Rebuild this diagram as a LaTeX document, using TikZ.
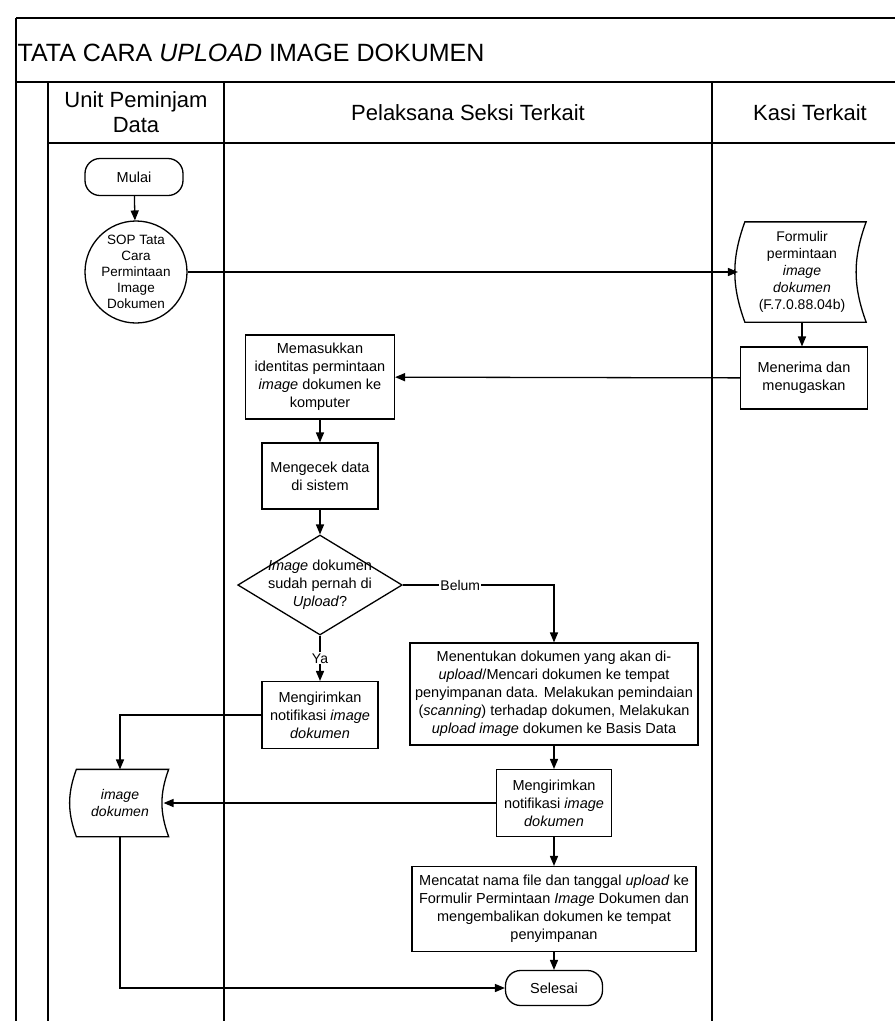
\documentclass[tikz,border=0pt]{standalone}
\usepackage{fontspec}
\setmainfont{Liberation Sans}
\usetikzlibrary{arrows,shapes.geometric}

\tikzset{
  box/.style={draw,line width=1.3pt,align=center,inner sep=1pt,font=\fontsize{14.5}{18}\selectfont},
  terminal/.style={box,rounded corners=15pt},
  datashape/.style={align=center,inner sep=1pt,font=\fontsize{14}{17}\selectfont},
  lane/.style={line width=1.6pt},
  label/.style={fill=white,inner sep=1pt,font=\fontsize{14}{16}\selectfont}
}

\begin{document}
\begin{tikzpicture}[x=1pt,y=-1pt,>=triangle 45,line width=1.3pt]
        \useasboundingbox (0,0) rectangle (895,1021);

        % Lanes.
        \draw[lane] (16,18) -- (895,18);
        \draw[lane] (16,18) -- (16,1021);
        \draw[lane] (16,82) -- (895,82);
        \draw[lane] (48,82) -- (48,1021);
        \draw[lane] (48,143) -- (895,143);
        \draw[lane] (224,82) -- (224,1021);
        \draw[lane] (712,82) -- (712,1021);
        \node[anchor=west,inner sep=0pt,font=\fontsize{25}{28}\selectfont] (judul) at (17,53) {TATA CARA \textit{UPLOAD} IMAGE DOKUMEN};
        \node[align=center,font=\fontsize{22}{25}\selectfont] (unit) at (136,112) {Unit Peminjam\\Data};
        \node[font=\fontsize{22}{25}\selectfont] (pelaksana) at (468,113) {Pelaksana Seksi Terkait};
        \node[font=\fontsize{22}{25}\selectfont] (kasi) at (810,113) {Kasi Terkait};

        % Terminals.
        \node[terminal,minimum width=98,minimum height=37] (mulai) at (134,177) {Mulai};
        \node[terminal,minimum width=97,minimum height=35] (selesai) at (554,988) {Selesai};
        \node[draw,circle,minimum size=102,inner sep=0pt,align=center,font=\fontsize{13.5}{16}\selectfont] (sop) at (136,272) {SOP Tata\\Cara\\Permintaan\\Image\\Dokumen};

        % Data.
        \node[datashape,minimum width=127,minimum height=99] (formulir) at (802,272) {Formulir\\permintaan\\\textit{image}\\\textit{dokumen}\\(F.7.0.88.04b)};
        \draw ([xshift=7]formulir.north west) to[bend right=20] ([xshift=7]formulir.south west) -- (formulir.south east) to[bend left=20] (formulir.north east) -- cycle;
        \node[datashape,minimum width=96,minimum height=66] (imgdok) at (120,803) {\textit{image}\\\textit{dokumen}};
        \draw ([xshift=5]imgdok.north west) to[bend right=20] ([xshift=5]imgdok.south west) -- (imgdok.south east) to[bend left=20] (imgdok.north east) -- cycle;

        % Processes.
        \node[box,minimum width=127,minimum height=62] (menerima) at (804,378) {Menerima dan\\menugaskan};
        \node[box,minimum width=149,minimum height=84] (memasukkan) at (320,377) {Memasukkan\\identitas permintaan\\\textit{image} dokumen ke\\komputer};
        \node[box,minimum width=116,minimum height=66] (mengecek) at (320,476) {Mengecek data\\di sistem};
        \node[box,diamond,aspect=1.65,inner sep=-4pt,minimum width=161,minimum height=100] (sudah) at (320,585) {\textit{Image} dokumen\\sudah pernah di\\\textit{Upload}?};
        \node[box,minimum width=116,minimum height=67] (kirimA) at (320,715) {Mengirimkan\\notifikasi \textit{image}\\\textit{dokumen}};
        \node[box,minimum width=288,minimum height=102] (menentukan) at (554,694) {Menentukan dokumen yang akan di-\\\textit{upload}/Mencari dokumen ke tempat\\penyimpanan data. Melakukan pemindaian\\(\textit{scanning}) terhadap dokumen, Melakukan\\\textit{upload image} dokumen ke Basis Data};
        \node[box,minimum width=115,minimum height=67] (kirimB) at (554,803) {Mengirimkan\\notifikasi \textit{image}\\\textit{dokumen}};
        \node[box,minimum width=284,minimum height=85] (mencatat) at (554,909) {Mencatat nama file dan tanggal \textit{upload} ke\\Formulir Permintaan \textit{Image} Dokumen dan\\mengembalikan dokumen ke tempat\\penyimpanan};

        % Connections.
        \draw[->] (mulai) -- (sop);
        \draw[->] (sop) -- (formulir.west);
        \draw[->] (formulir.south) -- (formulir.south |- menerima.north);
        \draw[->] (menerima) -- (memasukkan);
        \draw[->] (memasukkan) -- (mengecek);
        \draw[->] (mengecek) -- (sudah);
        \draw[->] (sudah.east) -| node[label,pos=0.19] {Belum} (menentukan.north);
        \draw[->] (sudah.south) -- node[label] {Ya} (kirimA.north);
        \draw[->] (kirimA.west) -| (imgdok.north);
        \draw[->] (menentukan) -- (kirimB);
        \draw[->] (kirimB.west) -- ([xshift=-5]imgdok.east);
        \draw[->] (kirimB) -- (mencatat);
        \draw[->] (mencatat) -- (selesai);
        \draw[->] (imgdok.south) |- (selesai.west);
    \end{tikzpicture}
\end{document}
